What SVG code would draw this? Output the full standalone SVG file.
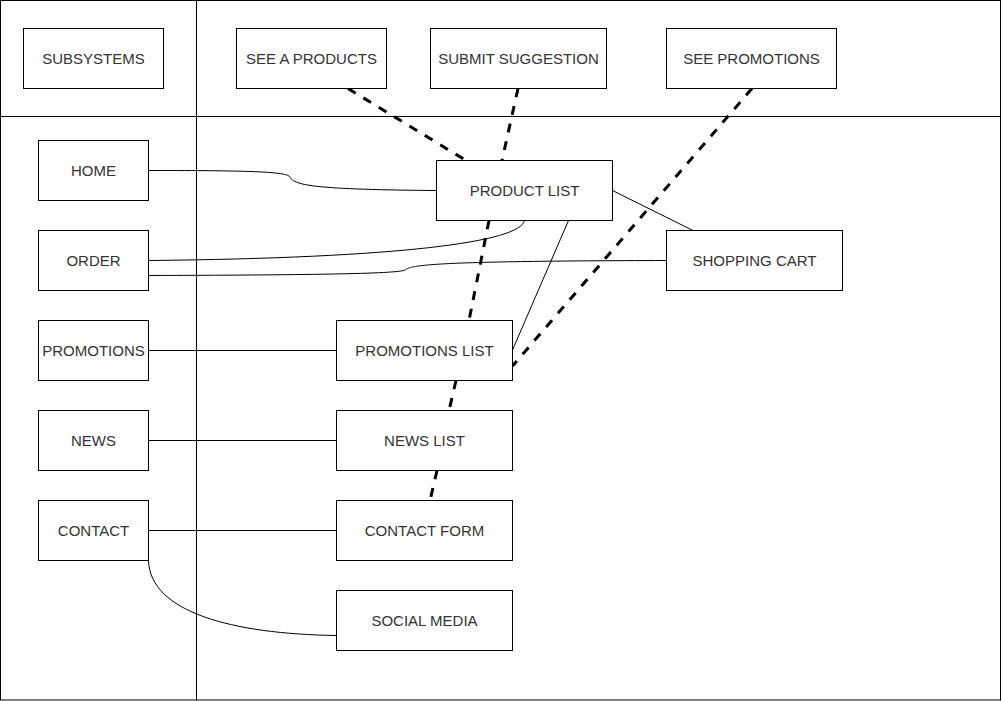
<svg xmlns="http://www.w3.org/2000/svg" width="1002" height="701" viewBox="0 0 1002 701">
<style>
.n rect{fill:#fff;stroke:#000;stroke-width:1}
.n text{font-family:"Liberation Sans",Arial,sans-serif;font-size:15px;fill:#333;text-anchor:middle;dominant-baseline:central}
.c path{fill:none;stroke:#000;stroke-width:1}
.c .d{stroke-width:3;stroke-dasharray:9 9}
.frame{fill:none;stroke:#000;stroke-width:1}
</style>
<rect width="1002" height="701" fill="#fff"/>
<g id="frame">
<rect class="frame" x="0.5" y="0.5" width="1000" height="699.5"/>
<path class="frame" d="M196.5 0.5V700M0.5 116.5H1000.5"/>
</g>
<g class="c" id="connectors">
<path d="M148.5 170.5C230 170.5 282 171 289 176C294 184 300 189.5 436.5 190.5"/>
<path d="M148.5 260.5C400 258 520 242 524.5 220.5"/>
<path d="M148.5 275.5C300 275 398 274 405 270C412 265 430 261 666.5 260.5"/>
<path d="M612.5 190.5L693 230.5"/>
<path d="M568.5 220.5L512.5 350"/>
<path d="M148.5 350.5H336.5"/>
<path d="M148.5 440.5H336.5"/>
<path d="M148.5 530.5H336.5"/>
<path d="M148.5 560.5C150 612 232 634 336.5 635.5"/>
<path class="d" d="M348 88.5L466 160.5"/>
<path class="d" d="M518 88.5L502 160.5"/>
<path class="d" d="M752 88.5L512.5 366"/>
<path class="d" d="M489 220.5L469 320.5"/>
<path class="d" d="M456 380.5L449 410.5"/>
<path class="d" d="M437 470.5L430 500.5"/>
</g>
<g class="n" id="subsystems"><rect x="23.5" y="28.5" width="140" height="60"/><text x="93.5" y="58.5">SUBSYSTEMS</text></g>
<g class="n" id="see-products"><rect x="236.5" y="28.5" width="150" height="60"/><text x="311.5" y="58.5">SEE A PRODUCTS</text></g>
<g class="n" id="submit-suggestion"><rect x="430.5" y="28.5" width="176" height="60"/><text x="518.5" y="58.5">SUBMIT SUGGESTION</text></g>
<g class="n" id="see-promotions"><rect x="666.5" y="28.5" width="170" height="60"/><text x="751.5" y="58.5">SEE PROMOTIONS</text></g>
<g class="n" id="home"><rect x="38.5" y="140.5" width="110" height="60"/><text x="93.5" y="170.5">HOME</text></g>
<g class="n" id="order"><rect x="38.5" y="230.5" width="110" height="60"/><text x="93.5" y="260.5">ORDER</text></g>
<g class="n" id="promotions"><rect x="38.5" y="320.5" width="110" height="60"/><text x="93.5" y="350.5">PROMOTIONS</text></g>
<g class="n" id="news"><rect x="38.5" y="410.5" width="110" height="60"/><text x="93.5" y="440.5">NEWS</text></g>
<g class="n" id="contact"><rect x="38.5" y="500.5" width="110" height="60"/><text x="93.5" y="530.5">CONTACT</text></g>
<g class="n" id="product-list"><rect x="436.5" y="160.5" width="176" height="60"/><text x="524.5" y="190.5">PRODUCT LIST</text></g>
<g class="n" id="shopping-cart"><rect x="666.5" y="230.5" width="176" height="60"/><text x="754.5" y="260.5">SHOPPING CART</text></g>
<g class="n" id="promotions-list"><rect x="336.5" y="320.5" width="176" height="60"/><text x="424.5" y="350.5">PROMOTIONS LIST</text></g>
<g class="n" id="news-list"><rect x="336.5" y="410.5" width="176" height="60"/><text x="424.5" y="440.5">NEWS LIST</text></g>
<g class="n" id="contact-form"><rect x="336.5" y="500.5" width="176" height="60"/><text x="424.5" y="530.5">CONTACT FORM</text></g>
<g class="n" id="social-media"><rect x="336.5" y="590.5" width="176" height="60"/><text x="424.5" y="620.5">SOCIAL MEDIA</text></g>
</svg>
